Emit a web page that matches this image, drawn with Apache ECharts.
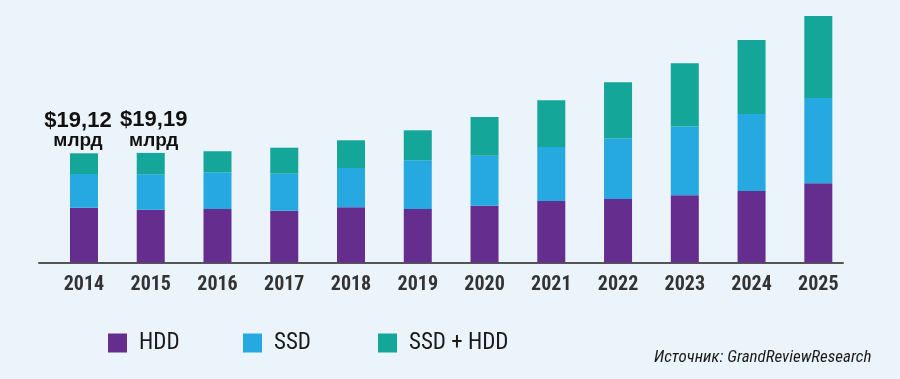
<!DOCTYPE html>
<html>
<head>
<meta charset="utf-8">
<script src="https://cdn.jsdelivr.net/npm/echarts@6/dist/echarts.min.js"></script>
<style>
html,body{margin:0;padding:0;background:#ebf3fb;}
#c{width:900px;height:379px;}
</style>
</head>
<body>
<div id="c"></div>
<script>
var years = ['2014','2015','2016','2017','2018','2019','2020','2021','2022','2023','2024','2025'];
var hdd    = [9.60, 9.24, 9.37, 9.07, 9.67, 9.37, 9.95, 10.77, 11.12, 11.78, 12.52, 13.87];
var ssd    = [5.90, 6.20, 6.43, 6.48, 6.88, 8.53, 8.76, 9.46, 10.63, 12.03, 13.48, 14.94];
var hybrid = [3.62, 3.75, 3.68, 4.55, 4.85, 5.25, 6.78, 8.18, 9.81, 11.07, 12.96, 14.36];
var totalLabels = ['$19,12', '$19,19'];
var unitLabel = 'млрд';
var seriesNames = ['HDD', 'SSD', 'SSD + HDD'];
var colors = ['#652d8e', '#25a9e0', '#14a698'];
var sourceText = 'Источник: GrandReviewResearch';

var narrow = "'Liberation Sans Narrow', 'Roboto Condensed', 'DejaVu Sans Condensed', sans-serif";
var labelShift = [-6, 3];

var chart = echarts.init(document.getElementById('c'), null, {renderer: 'canvas'});

function legendFor(i, left) {
  return {
    left: left, top: 331.5, padding: 0,
    itemWidth: 19, itemHeight: 19,
    icon: 'rect',
    data: [seriesNames[i]],
    selectedMode: false,
    textStyle: {fontFamily: narrow, fontSize: 23, color: '#1a1a1a', padding: [0, 0, 0, 7]}
  };
}

var hybridData = hybrid.map(function (v, i) {
  if (i < totalLabels.length) {
    return {value: v, label: {offset: [labelShift[i], 0]}};
  }
  return v;
});

var option = {
  backgroundColor: '#ebf3fb',
  animation: false,
  color: colors,
  grid: [
    {left: 50.6, right: 48.3, top: 5.5, bottom: 116.5},
    {left: 39, right: 57, top: 5.5, bottom: 116.5}
  ],
  xAxis: [
    {
      type: 'category', gridIndex: 0, data: years,
      axisLine: {show: false}, axisTick: {show: false},
      axisLabel: {margin: 12, fontFamily: narrow, fontSize: 20, fontWeight: 'bold', color: '#333'}
    },
    {
      type: 'value', gridIndex: 1, min: 0, max: 1,
      axisLine: {show: true, lineStyle: {color: '#555', width: 2}},
      axisTick: {show: false}, axisLabel: {show: false}, splitLine: {show: false}
    }
  ],
  yAxis: [
    {type: 'value', gridIndex: 0, min: 0, max: 45, show: false, splitLine: {show: false}},
    {type: 'value', gridIndex: 1, min: 0, max: 1, show: false, splitLine: {show: false}}
  ],
  legend: [legendFor(0, 108), legendFor(1, 243), legendFor(2, 378)],
  graphic: [{
    type: 'text', left: 654, top: 349,
    style: {text: sourceText, fill: '#1a1a1a', font: "italic 17px " + narrow}
  }],
  series: [
    {name: seriesNames[0], type: 'bar', stack: 's', barWidth: 28, data: hdd, itemStyle: {color: colors[0]}},
    {name: seriesNames[1], type: 'bar', stack: 's', barWidth: 28, data: ssd, itemStyle: {color: colors[1]}},
    {name: seriesNames[2], type: 'bar', stack: 's', barWidth: 28, data: hybridData, itemStyle: {color: colors[2]},
      label: {
        show: true, position: 'top', distance: 3,
        formatter: function (p) {
          return p.dataIndex < totalLabels.length ? '{a|' + totalLabels[p.dataIndex] + '}\n{b|' + unitLabel + '}' : '';
        },
        rich: {
          a: {fontFamily: "'Liberation Sans', Arial, sans-serif", fontWeight: 'bold', fontSize: 22, color: '#111', lineHeight: 21, align: 'center'},
          b: {fontFamily: "'Liberation Sans', Arial, sans-serif", fontWeight: 'bold', fontSize: 19, color: '#111', lineHeight: 19, align: 'center'}
        }
      }
    }
  ]
};
chart.setOption(option);
</script>
</body>
</html>
